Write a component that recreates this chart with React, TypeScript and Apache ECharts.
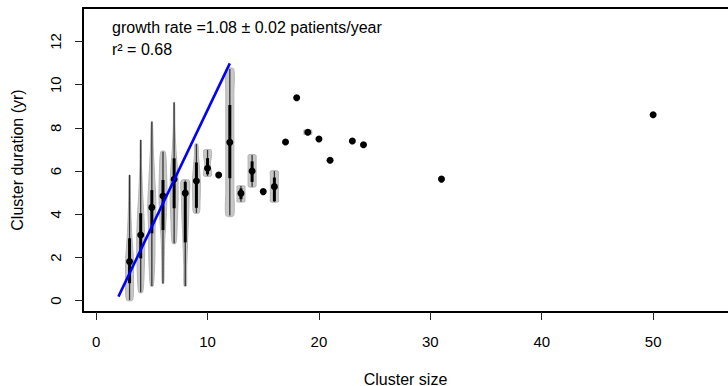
import React, { useEffect, useRef } from "react";
import * as echarts from "echarts";

// Tick labels
const xTicks = [0, 10, 20, 30, 40, 50];
const yTicks = [0, 2, 4, 6, 8, 10, 12];

// Median cluster duration per cluster size (black dots)
const pointSize = [3, 4, 5, 6, 7, 8, 9, 10, 11, 12, 13, 14, 15, 16, 17, 18, 19, 20, 21, 23, 24, 31, 50];
const pointDuration = [1.81, 3.04, 4.32, 4.85, 5.62, 4.98, 5.54, 6.13, 5.82, 7.33, 4.97, 6.0, 5.05, 5.28, 7.35, 9.4, 7.8, 7.49, 6.5, 7.39, 7.22, 5.63, 8.61];

// Violins: range, inter-quartile range and relative density (bottom -> top)
const violinSize = [3, 4, 5, 6, 7, 8, 9, 10, 12, 13, 14, 16, 19];
const violinMin = [0.03, 0.39, 0.68, 0.8, 2.66, 0.68, 4.07, 5.77, 3.94, 4.58, 5.28, 4.58, 7.7];
const violinMax = [5.82, 7.44, 8.29, 6.9, 9.18, 5.56, 7.25, 6.98, 10.73, 5.31, 6.75, 6.0, 7.9];
const violinQ1 = [0.81, 1.96, 3.12, 3.27, 4.28, 2.7, 4.3, 5.85, 5.67, 4.7, 5.5, 4.6, 7.8];
const violinQ3 = [2.89, 4.05, 5.12, 5.59, 6.59, 5.5, 6.4, 6.6, 9.06, 5.2, 6.45, 5.7, 7.8];
const violinDensity = [
  [0.75, 1.0, 0.95, 0.6, 0.35, 0.2, 0.12],
  [0.5, 0.9, 1.0, 0.8, 0.45, 0.2, 0.12],
  [0.35, 0.75, 0.8, 1.0, 0.7, 0.35, 0.15],
  [0.2, 0.3, 0.45, 0.8, 1.0, 0.9, 0.55],
  [0.45, 0.8, 1.0, 0.9, 0.45, 0.2, 0.12],
  [0.3, 0.35, 0.5, 0.65, 0.85, 0.95, 1.0],
  [0.7, 0.9, 1.0, 0.95, 0.75, 0.5, 0.35],
  [0.9, 1.0, 0.75, 0.7, 0.9, 1.0, 0.9],
  [0.95, 1, 1, 1, 1, 1, 0.95],
  [0.95, 1, 1, 1, 1, 1, 0.95],
  [0.9, 1, 1, 1, 1, 1, 0.9],
  [0.95, 1, 1, 1, 1, 1, 0.95],
  [1, 1, 1, 1, 1, 1, 1],
];

// Fitted growth line
const fitX = [2, 12];
const fitY = [0.19, 10.99];

const FONT = "'Liberation Sans', Arial, Helvetica, sans-serif";
const VIOLIN_HALF_WIDTH = 0.36;

export default function App() {
  const ref = useRef<HTMLDivElement>(null);

  useEffect(() => {
    if (!ref.current) return;
    const chart = echarts.init(ref.current, null, { renderer: "svg" });

    const violinData = violinSize.map((x, i) => [x, violinMin[i], violinMax[i], i]);
    const boxLine = { show: true, onZero: false, lineStyle: { color: "#000", width: 2 } };

    const option: any = {
      animation: false,
      backgroundColor: "#fff",
      textStyle: { fontFamily: FONT },
      grid: {
        left: 83,
        top: 8,
        right: 0,
        bottom: 74,
        show: false,
        outerBoundsMode: "none",
      },
      xAxis: [
        {
          type: "value",
          min: -1.18,
          max: 56.72,
          position: "bottom",
          axisLine: boxLine,
          splitLine: { show: false },
          axisTick: { show: true, length: 8, customValues: xTicks, lineStyle: { color: "#222", width: 1 } },
          axisLabel: { customValues: xTicks, fontSize: 15, margin: 22, color: "#000", fontFamily: FONT },
          name: "Cluster size",
          nameLocation: "middle",
          nameGap: 59,
          nameTextStyle: { fontSize: 16, color: "#000", fontFamily: FONT },
        },
        {
          type: "value",
          min: -1.18,
          max: 56.72,
          position: "top",
          axisLine: boxLine,
          splitLine: { show: false },
          axisTick: { show: false },
          axisLabel: { show: false },
        },
      ],
      yAxis: {
        type: "value",
        min: -0.523,
        max: 13.551,
        axisLine: boxLine,
        splitLine: { show: false },
        axisTick: { show: true, length: 8, customValues: yTicks, lineStyle: { color: "#222", width: 1 } },
        axisLabel: { customValues: yTicks, rotate: 90, fontSize: 15, margin: 20, color: "#000", fontFamily: FONT },
        name: "Cluster duration (yr)",
        nameLocation: "middle",
        nameGap: 58,
        nameTextStyle: { fontSize: 16, color: "#000", fontFamily: FONT },
      },
      series: [
        {
          type: "custom",
          data: violinData,
          encode: { x: 0, y: [1, 2] },
          z: 2,
          renderItem: (_params: any, api: any) => {
            const x = api.value(0) as number;
            const lo = api.value(1) as number;
            const hi = api.value(2) as number;
            const idx = api.value(3) as number;
            const dens = violinDensity[idx];
            const n = dens.length;
            const right: number[][] = [];
            const left: number[][] = [];
            for (let k = 0; k < n; k++) {
              const y = lo + ((hi - lo) * k) / (n - 1);
              const hw = VIOLIN_HALF_WIDTH * dens[k];
              right.push(api.coord([x + hw, y]));
              left.push(api.coord([x - hw, y]));
            }
            const pts = right.concat(left.reverse());
            const top = api.coord([x, hi]);
            const bot = api.coord([x, lo]);
            const q1 = api.coord([x, violinQ1[idx]]);
            const q3 = api.coord([x, violinQ3[idx]]);
            return {
              type: "group",
              children: [
                {
                  type: "polygon",
                  shape: { points: pts, smooth: 0.25 },
                  style: { fill: "#c8c8c8", stroke: "#b4b4b4", lineWidth: 1 },
                },
                {
                  type: "line",
                  shape: { x1: top[0], y1: top[1], x2: bot[0], y2: bot[1] },
                  style: { stroke: "#333", lineWidth: 1.3 },
                },
                {
                  type: "line",
                  shape: { x1: q3[0], y1: q3[1], x2: q1[0], y2: q1[1] },
                  style: { stroke: "#000", lineWidth: 3 },
                },
              ],
            };
          },
        },
        {
          type: "scatter",
          data: pointSize.map((x, i) => [x, pointDuration[i]]),
          symbol: "circle",
          symbolSize: 7,
          itemStyle: { color: "#000", opacity: 1 },
          z: 3,
        },
        {
          type: "line",
          data: fitX.map((x, i) => [x, fitY[i]]),
          showSymbol: false,
          lineStyle: { color: "#0000ff", width: 2.6 },
          z: 4,
        },
      ],
      graphic: [
        {
          type: "text",
          x: 112,
          y: 27.5,
          style: {
            text: "growth rate =1.08 ± 0.02 patients/year",
            fontSize: 16,
            fontFamily: FONT,
            fill: "#000",
            verticalAlign: "middle",
          },
        },
        {
          type: "text",
          x: 112,
          y: 49.5,
          style: {
            text: "r² = 0.68",
            fontSize: 16,
            fontFamily: FONT,
            fill: "#000",
            verticalAlign: "middle",
          },
        },
      ],
    };

    chart.setOption(option);
    return () => chart.dispose();
  }, []);

  return (
    <div
      ref={ref}
      style={{ position: "fixed", left: 0, top: 0, width: 728, height: 386, background: "#fff" }}
    />
  );
}
